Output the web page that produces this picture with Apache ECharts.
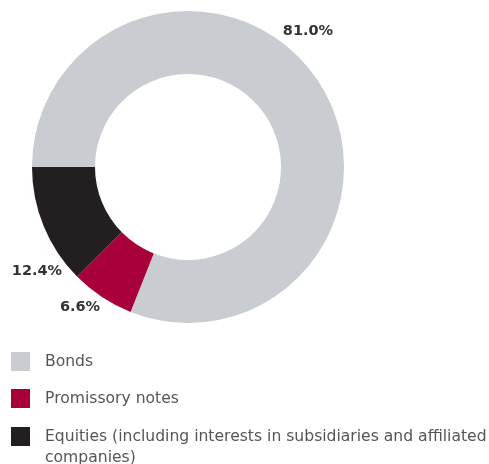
<!DOCTYPE html>
<html>
<head>
<meta charset="utf-8">
<script src="https://cdn.jsdelivr.net/npm/echarts@6/dist/echarts.min.js"></script>
<style>
  html, body { margin: 0; padding: 0; background: #fff; }
  #chart { width: 489px; height: 464px; }
</style>
</head>
<body>
<div id="chart"></div>
<script>
// Portfolio composition by asset type (%)
var categories = ['Bonds', 'Promissory notes', 'Equities (including interests in subsidiaries and affiliated companies)'];
var shares = [81.0, 6.6, 12.4];
var colors = ['#c9cdd1', '#a8003a', '#231f20'];

// Label anchor points (pixel) for each slice's percentage
var labelSpots = [[308, 31], [80, 307], [37, 271]];
// Top edge of each legend block
var legendTops = [351, 388, 405];

var textFont = 'DejaVu Sans, Liberation Sans, Arial, sans-serif';

var chart = echarts.init(document.getElementById('chart'), null, { renderer: 'canvas' });

var pieData = categories.map(function (name, i) {
  return { name: name, value: shares[i], itemStyle: { color: colors[i] } };
});

// Long names wrap before their last word; a leading blank line keeps the
// square level with the first line of text (legend text is centred on the icon)
function legendText(name) {
  if (name.length < 60) return name;
  var cut = name.lastIndexOf(' ');
  return '\n' + name.slice(0, cut) + '\n' + name.slice(cut + 1);
}

// One legend block per row
var legends = categories.map(function (name, i) {
  return {
    orient: 'vertical',
    left: 11,
    top: legendTops[i],
    padding: 0,
    itemWidth: 19,
    itemHeight: 19,
    icon: 'rect',
    selectedMode: false,
    data: [name],
    formatter: legendText,
    textStyle: {
      fontFamily: textFont,
      fontSize: 15.6,
      color: '#555555',
      lineHeight: 21,
      padding: [0, 0, 0, 10]
    }
  };
});

chart.setOption({
  animation: false,
  backgroundColor: '#ffffff',
  legend: legends,
  series: [{
    type: 'pie',
    center: [188, 167],
    radius: [93, 156],
    startAngle: 180,
    clockwise: true,
    silent: true,
    avoidLabelOverlap: false,
    data: pieData,
    itemStyle: { borderWidth: 0 },
    label: {
      show: true,
      position: 'outside',
      overflow: 'none',
      formatter: function (p) { return p.value.toFixed(1) + '%'; },
      fontFamily: textFont,
      fontWeight: 'bold',
      fontSize: 14.5,
      color: '#333333'
    },
    labelLine: { show: false },
    labelLayout: function (params) {
      var spot = labelSpots[params.dataIndex];
      return { x: spot[0], y: spot[1], align: 'center', verticalAlign: 'middle', hideOverlap: false };
    }
  }]
});
</script>
</body>
</html>
